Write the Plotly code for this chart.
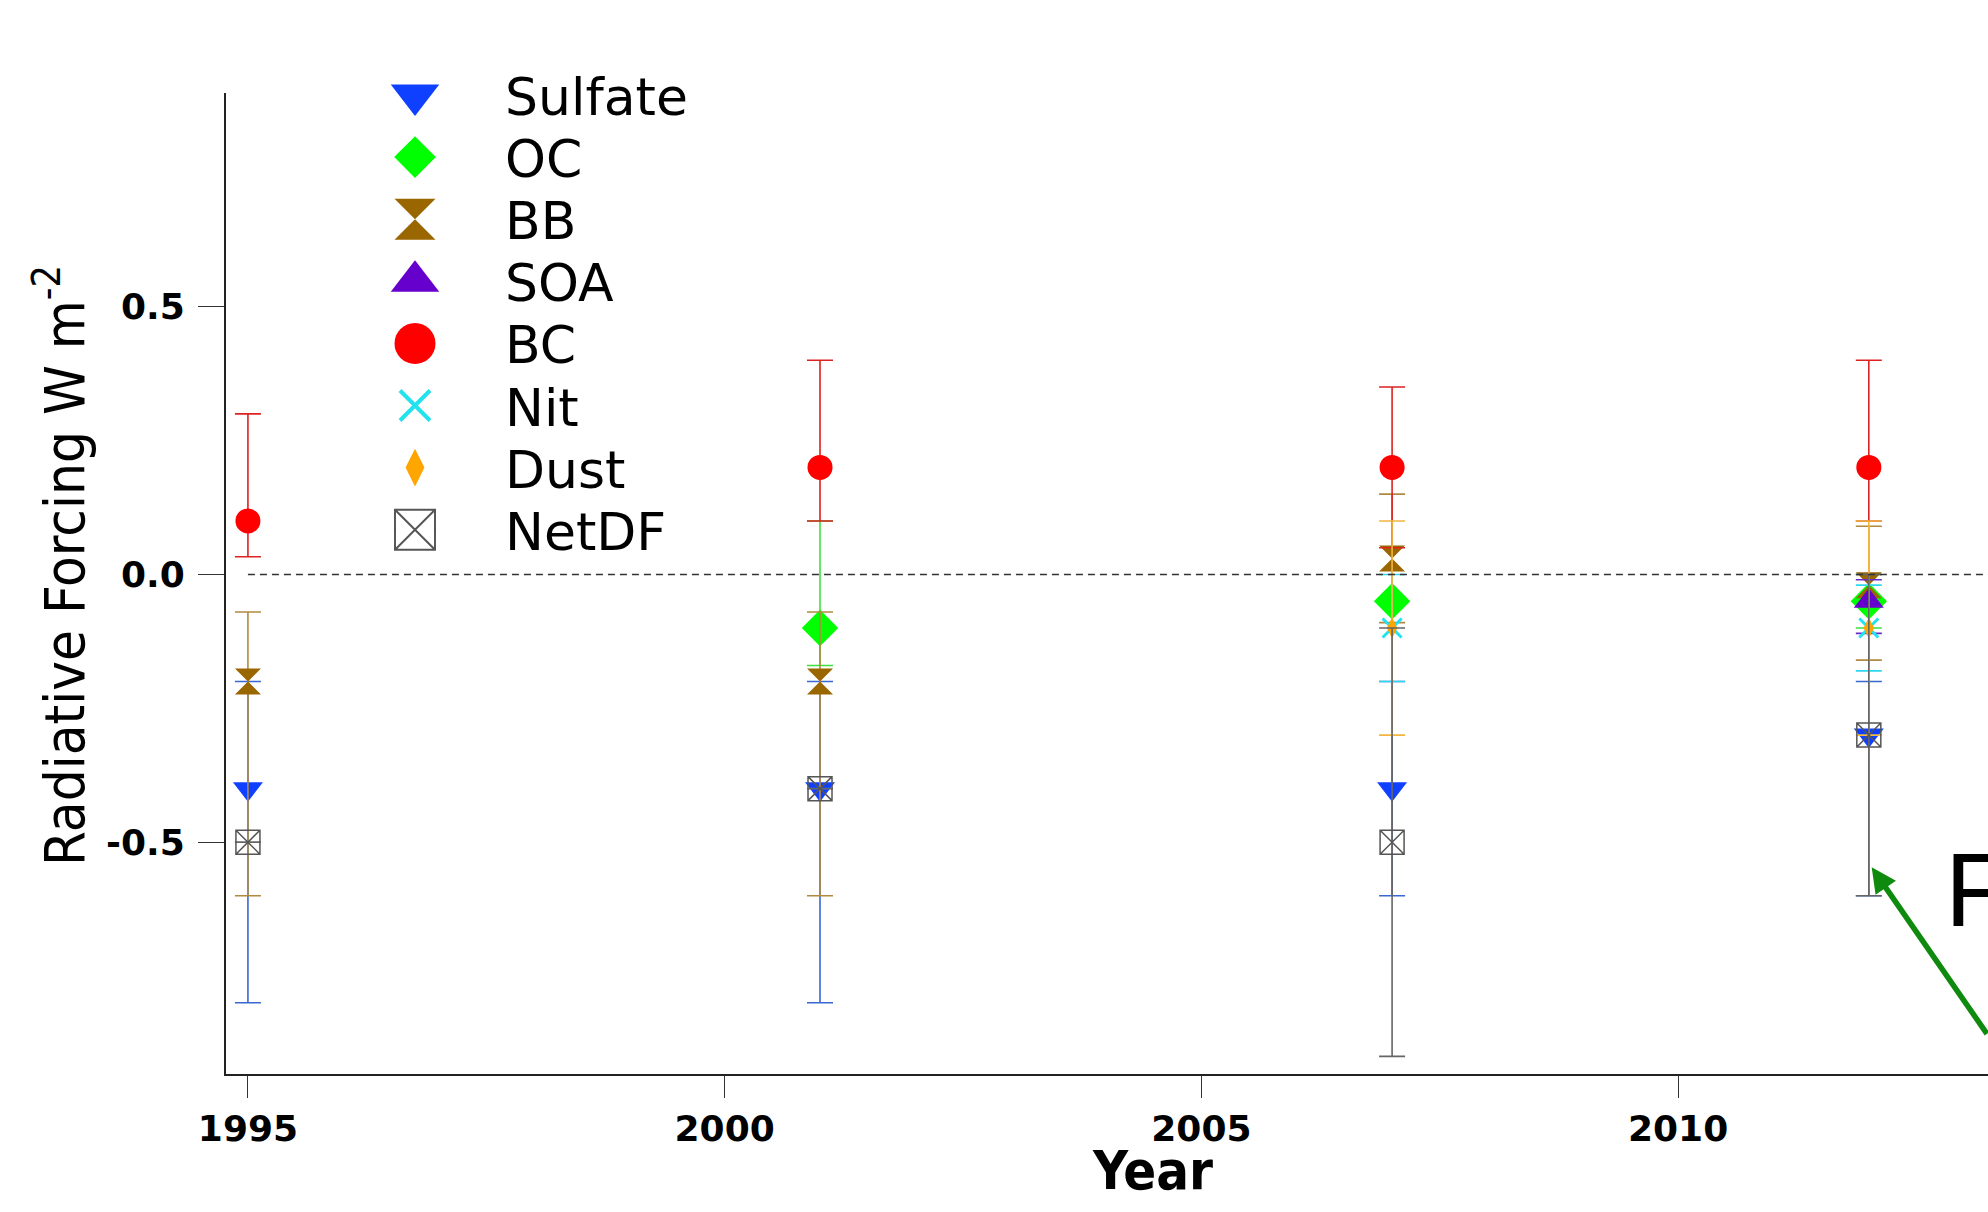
import plotly.graph_objects as go

# ---------------- data ----------------
x_tick_vals = [1995, 2000, 2005, 2010]
x_tick_labels = ["1995", "2000", "2005", "2010"]
y_tick_vals = [-0.5, 0.0, 0.5]
y_tick_labels = ["-0.5", "0.0", "0.5"]

sulfate_years = [1995, 2001, 2007, 2012]
sulfate_vals = [-0.4, -0.4, -0.4, -0.3]
sulfate_plus = [0.2, 0.2, 0.2, 0.1]
sulfate_minus = [0.4, 0.4, 0.2, 0.3]

oc_years = [2001, 2007, 2012]
oc_vals = [-0.1, -0.05, -0.05]
oc_plus = [0.2, 0.0, 0.05]
oc_minus = [0.07, 0.0, 0.05]

bb_years = [1995, 2001, 2007, 2012]
bb_vals = [-0.2, -0.2, 0.03, -0.02]
bb_plus = [0.13, 0.13, 0.12, 0.11]
bb_minus = [0.4, 0.4, 0.12, 0.14]

soa_years = [2012]
soa_vals = [-0.05]
soa_plus = [0.04]
soa_minus = [0.06]

bc_years = [1995, 2001, 2007, 2012]
bc_vals = [0.1, 0.2, 0.2, 0.2]
bc_plus = [0.2, 0.2, 0.15, 0.2]
bc_minus = [0.067, 0.1, 0.15, 0.1]

nit_years = [2007, 2012]
nit_vals = [-0.1, -0.1]
nit_plus = [0.1, 0.08]
nit_minus = [0.1, 0.08]

dust_years = [2007, 2012]
dust_vals = [-0.1, -0.1]
dust_plus = [0.2, 0.2]
dust_minus = [0.2, 0.2]

netdf_years = [1995, 2001, 2007, 2012]
netdf_vals = [-0.5, -0.4, -0.5, -0.3]
netdf_plus = [None, None, 0.4, 0.3]
netdf_minus = [None, None, 0.4, 0.3]

series_names = ["Sulfate", "OC", "BB", "SOA", "BC", "Nit", "Dust", "NetDF"]

# ---------------- style ----------------
W, H = 1988, 1212
PLOT_L, PLOT_T, PLOT_B = 226, 92.6, 1074
x_range = [1994.77, 2013.25]
y_range = [-0.933, 0.900]

styles = {
    "Sulfate": dict(symbol="triangle-down", color="#1040FF", err="#3A68D0", size=26, lsize=42, lw=0),
    "OC": dict(symbol="diamond", color="#00FF00", err="#3FE03F", size=28, lsize=32, lw=0),
    "BB": dict(symbol="hourglass", color="#996600", err="#B08A40", size=26, lsize=41, lw=0),
    "SOA": dict(symbol="triangle-up", color="#6600CC", err="#6A2ACC", size=26, lsize=42, lw=0),
    "BC": dict(symbol="circle", color="#FF0000", err="#DD2222", size=25, lsize=41, lw=0),
    "Nit": dict(symbol="x-thin-open", color="#22E2EE", err="#30D8EE", size=19, lsize=30, lw=3),
    "Dust": dict(symbol="diamond-tall", color="#FFA500", err="#F2B640", size=15, lsize=27, lw=0),
    "NetDF": dict(symbol="square-x-open", color="#555555", err="#666666", size=24, lsize=40, lw=1.5),
}

data = {
    "Sulfate": (sulfate_years, sulfate_vals, sulfate_plus, sulfate_minus),
    "OC": (oc_years, oc_vals, oc_plus, oc_minus),
    "BB": (bb_years, bb_vals, bb_plus, bb_minus),
    "SOA": (soa_years, soa_vals, soa_plus, soa_minus),
    "BC": (bc_years, bc_vals, bc_plus, bc_minus),
    "Nit": (nit_years, nit_vals, nit_plus, nit_minus),
    "Dust": (dust_years, dust_vals, dust_plus, dust_minus),
    "NetDF": (netdf_years, netdf_vals, netdf_plus, netdf_minus),
}

fig = go.Figure()

for name in series_names:
    xs, ys, ep, em = data[name]
    st = styles[name]
    fig.add_trace(go.Scatter(
        x=xs, y=ys, mode="markers", name=name, showlegend=False,
        marker=dict(symbol=st["symbol"], size=st["size"], color=st["color"],
                    line=dict(width=st["lw"], color=st["color"])),
        error_y=dict(type="data", symmetric=False, array=ep, arrayminus=em,
                     color=st["err"], thickness=1.6, width=13),
        xaxis="x", yaxis="y",
    ))

# custom legend (pixel-space overlay axes)
LEG_X, LEG_Y0, LEG_DY, LEG_TX = 415, 95, 62.1, 503
for i, name in enumerate(series_names):
    st = styles[name]
    fig.add_trace(go.Scatter(
        x=[LEG_X], y=[LEG_Y0 + i * LEG_DY], mode="markers", showlegend=False,
        hoverinfo="skip",
        marker=dict(symbol=st["symbol"], size=st["lsize"], color=st["color"],
                    line=dict(width=st["lw"] * 1.3, color=st["color"])),
        xaxis="x2", yaxis="y2",
    ))

annotations = []
for i, name in enumerate(series_names):
    annotations.append(dict(
        text=name, xref="paper", yref="paper",
        x=LEG_TX / W, y=1 - (LEG_Y0 + i * LEG_DY + 2) / H,
        xanchor="left", yanchor="middle", showarrow=False,
        font=dict(family="DejaVu Sans", size=52, color="black"),
    ))

# axis titles
annotations.append(dict(
    text="Year", xref="paper", yref="paper", x=1152 / W, y=1 - 1170 / H,
    xanchor="center", yanchor="middle", showarrow=False,
    font=dict(family="DejaVu Sans Condensed, DejaVu Sans", size=54, color="black", weight="bold"),
))
annotations.append(dict(
    text="Radiative Forcing W m<sup>-2</sup>", xref="paper", yref="paper",
    x=60 / W, y=1 - 566 / H, textangle=-90,
    xanchor="center", yanchor="middle", showarrow=False,
    font=dict(family="DejaVu Sans Condensed, DejaVu Sans", size=56, color="black"),
))

# green arrow & cropped text at the right edge
annotations.append(dict(
    text="", x=2012.03, y=-0.547, xref="x", yref="y",
    showarrow=True, ax=150, ay=168, axref="pixel", ayref="pixel",
    arrowhead=2, arrowsize=0.9, arrowwidth=5.5, arrowcolor="#0E8A0E",
))
annotations.append(dict(
    text="F", xref="paper", yref="paper", x=1943 / W, y=1 - 890 / H,
    xanchor="left", yanchor="middle", showarrow=False,
    font=dict(family="Liberation Sans", size=104, color="black"),
))

fig.add_shape(type="line", xref="x", yref="y",
              x0=sulfate_years[0], x1=x_range[1], y0=0, y1=0,
              line=dict(color="#333333", width=1.5, dash="7px,5px"))

tick_font = dict(family="DejaVu Sans", size=36, color="black", weight="bold")

fig.update_layout(
    width=W, height=H,
    margin=dict(l=0, r=0, t=0, b=0),
    paper_bgcolor="white", plot_bgcolor="rgba(0,0,0,0)",
    showlegend=False,
    annotations=annotations,
    xaxis=dict(
        domain=[PLOT_L / W, 1.0], range=x_range, anchor="y",
        showgrid=False, zeroline=False, showline=True, linecolor="#222222", linewidth=2,
        ticks="outside", ticklen=22, tickwidth=1.2, tickcolor="#333333",
        tickvals=x_tick_vals, ticktext=x_tick_labels, tickfont=tick_font,
        automargin=False,
    ),
    yaxis=dict(
        domain=[1 - PLOT_B / H, 1 - PLOT_T / H], range=y_range, anchor="x",
        showgrid=False, zeroline=False, showline=True, linecolor="#222222", linewidth=2,
        ticks="outside", ticklen=26, tickwidth=1.2, tickcolor="#333333",
        tickvals=y_tick_vals, ticktext=y_tick_labels, tickfont=tick_font,
        ticklabelstandoff=6,
        automargin=False,
    ),
    xaxis2=dict(domain=[0, 1], range=[0, W], visible=False, anchor="y2", fixedrange=True),
    yaxis2=dict(domain=[0, 1], range=[H, 0], visible=False, anchor="x2", fixedrange=True),
)

fig.write_html("out.html")
